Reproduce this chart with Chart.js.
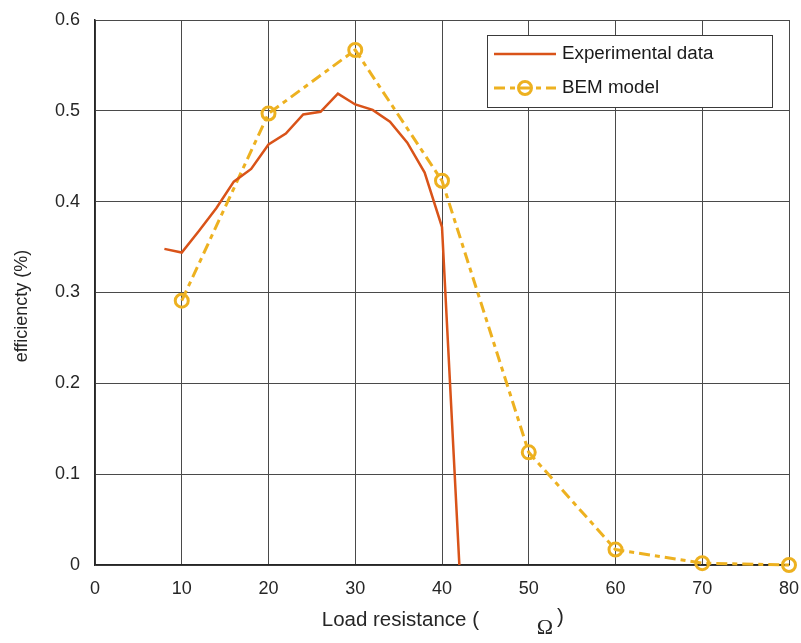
<!DOCTYPE html>
<html>
<head>
<meta charset="utf-8">
<style>
  html, body { margin: 0; padding: 0; background: #fff; }
  #wrap { width: 801px; height: 643px; }
</style>
<script src="https://cdn.jsdelivr.net/npm/chart.js@4.4.1/dist/chart.umd.min.js"></script>
</head>
<body>
<div id="wrap"><canvas id="chart" width="801" height="643"></canvas></div>
<script>
// load resistance (ohm) vs efficiency
const expX = [8, 10, 12, 14, 16, 18, 20, 22, 24, 26, 28, 30, 32, 34, 36, 38, 40, 42];
const expY = [0.348, 0.344, 0.368, 0.393, 0.422, 0.436, 0.463, 0.475, 0.496, 0.499, 0.519, 0.507, 0.501, 0.488, 0.465, 0.432, 0.372, 0];
const bemX = [10, 20, 30, 40, 50, 60, 70, 80];
const bemY = [0.291, 0.497, 0.567, 0.423, 0.124, 0.017, 0.002, 0];
const xTicks = [0, 10, 20, 30, 40, 50, 60, 70, 80];
const yTicks = [0, 0.1, 0.2, 0.3, 0.4, 0.5, 0.6];

const seriesNames = ['Experimental data', 'BEM model'];
const RED = '#D95319';
const YELLOW = '#EDB120';
const FONT = '"Liberation Sans", Arial, sans-serif';

const toPoints = (xs, ys) => xs.map((x, i) => ({ x: x, y: ys[i] }));

// legend box drawn inside the plot, top right
const boxLegend = {
    id: 'boxLegend',
    afterDraw(chart) {
        const ctx = chart.ctx;
        const x0 = 487, y0 = 35, w = 285, h = 72;
        ctx.save();
        ctx.fillStyle = '#fff';
        ctx.fillRect(x0, y0, w, h);
        ctx.strokeStyle = '#3a3a3a';
        ctx.lineWidth = 1;
        ctx.strokeRect(x0 + 0.5, y0 + 0.5, w, h);

        const rows = [54, 88];
        chart.data.datasets.forEach((ds, i) => {
            const y = rows[i];
            ctx.strokeStyle = ds.borderColor;
            ctx.lineWidth = ds.borderWidth;
            ctx.setLineDash(ds.borderDash || []);
            ctx.beginPath();
            ctx.moveTo(494, y);
            ctx.lineTo(556, y);
            ctx.stroke();
            ctx.setLineDash([]);
            if (ds.pointRadius > 0) {
                ctx.beginPath();
                ctx.arc(525, y, ds.pointRadius, 0, Math.PI * 2);
                ctx.lineWidth = ds.pointBorderWidth;
                ctx.stroke();
            }
            ctx.fillStyle = '#1a1a1a';
            ctx.font = '18.8px ' + FONT;
            ctx.textAlign = 'left';
            ctx.textBaseline = 'middle';
            ctx.fillText(ds.label, 562, y);
        });
        ctx.restore();
    }
};

// axis titles; the ohm sign sits on its own, lower baseline
const axisTitles = {
    id: 'axisTitles',
    afterDraw(chart) {
        const ctx = chart.ctx;
        ctx.save();
        ctx.fillStyle = '#262626';
        ctx.textBaseline = 'middle';

        ctx.font = '20.5px ' + FONT;
        ctx.textAlign = 'right';
        ctx.fillText('Load resistance (', 479, 620);
        ctx.textAlign = 'left';
        ctx.fillText(')', 557, 617);
        ctx.font = '22px "Liberation Serif", "DejaVu Serif", serif';
        ctx.textAlign = 'center';
        ctx.fillText('Ω', 545, 628);

        ctx.translate(22, 306);
        ctx.rotate(-Math.PI / 2);
        ctx.font = '18px ' + FONT;
        ctx.textAlign = 'center';
        ctx.fillText('efficiencty (%)', 0, 0);
        ctx.restore();
    }
};

new Chart(document.getElementById('chart'), {
    type: 'line',
    data: {
        datasets: [
            {
                label: seriesNames[0],
                data: toPoints(expX, expY),
                borderColor: RED,
                borderWidth: 2.5,
                pointRadius: 0,
                tension: 0,
                fill: false
            },
            {
                label: seriesNames[1],
                data: toPoints(bemX, bemY),
                borderColor: YELLOW,
                borderWidth: 3,
                borderDash: [11, 5, 5, 5],
                pointRadius: 6.5,
                pointBorderWidth: 3,
                pointBorderColor: YELLOW,
                pointBackgroundColor: 'rgba(0,0,0,0)',
                tension: 0,
                fill: false,
                clip: false
            }
        ]
    },
    options: {
        responsive: false,
        animation: false,
        layout: { padding: { top: 20, right: 12, left: 0, bottom: 0 } },
        plugins: {
            legend: { display: false },
            tooltip: { enabled: false }
        },
        scales: {
            x: {
                type: 'linear',
                min: 0,
                max: 80,
                afterBuildTicks: (scale) => { scale.ticks = xTicks.map(v => ({ value: v })); },
                afterFit: (scale) => {
                    scale.height = 78;
                    scale.paddingLeft = 0;
                    scale.paddingRight = 0;
                },
                grid: { color: '#4a4a4a', lineWidth: 1, drawTicks: false },
                border: { color: '#262626', width: 1.5 },
                ticks: {
                    color: '#262626',
                    font: { family: FONT, size: 18 },
                    padding: 13,
                    maxRotation: 0
                }
            },
            y: {
                min: 0,
                max: 0.6,
                afterBuildTicks: (scale) => { scale.ticks = yTicks.map(v => ({ value: v })); },
                afterFit: (scale) => {
                    scale.width = 95;
                    scale.paddingTop = 0;
                    scale.paddingBottom = 0;
                },
                grid: { color: '#4a4a4a', lineWidth: 1, drawTicks: false },
                border: { color: '#262626', width: 1.5 },
                ticks: {
                    color: '#262626',
                    font: { family: FONT, size: 18 },
                    padding: 15,
                    callback: (v) => String(+v.toFixed(1))
                }
            }
        }
    },
    plugins: [boxLegend, axisTitles]
});
</script>
</body>
</html>
